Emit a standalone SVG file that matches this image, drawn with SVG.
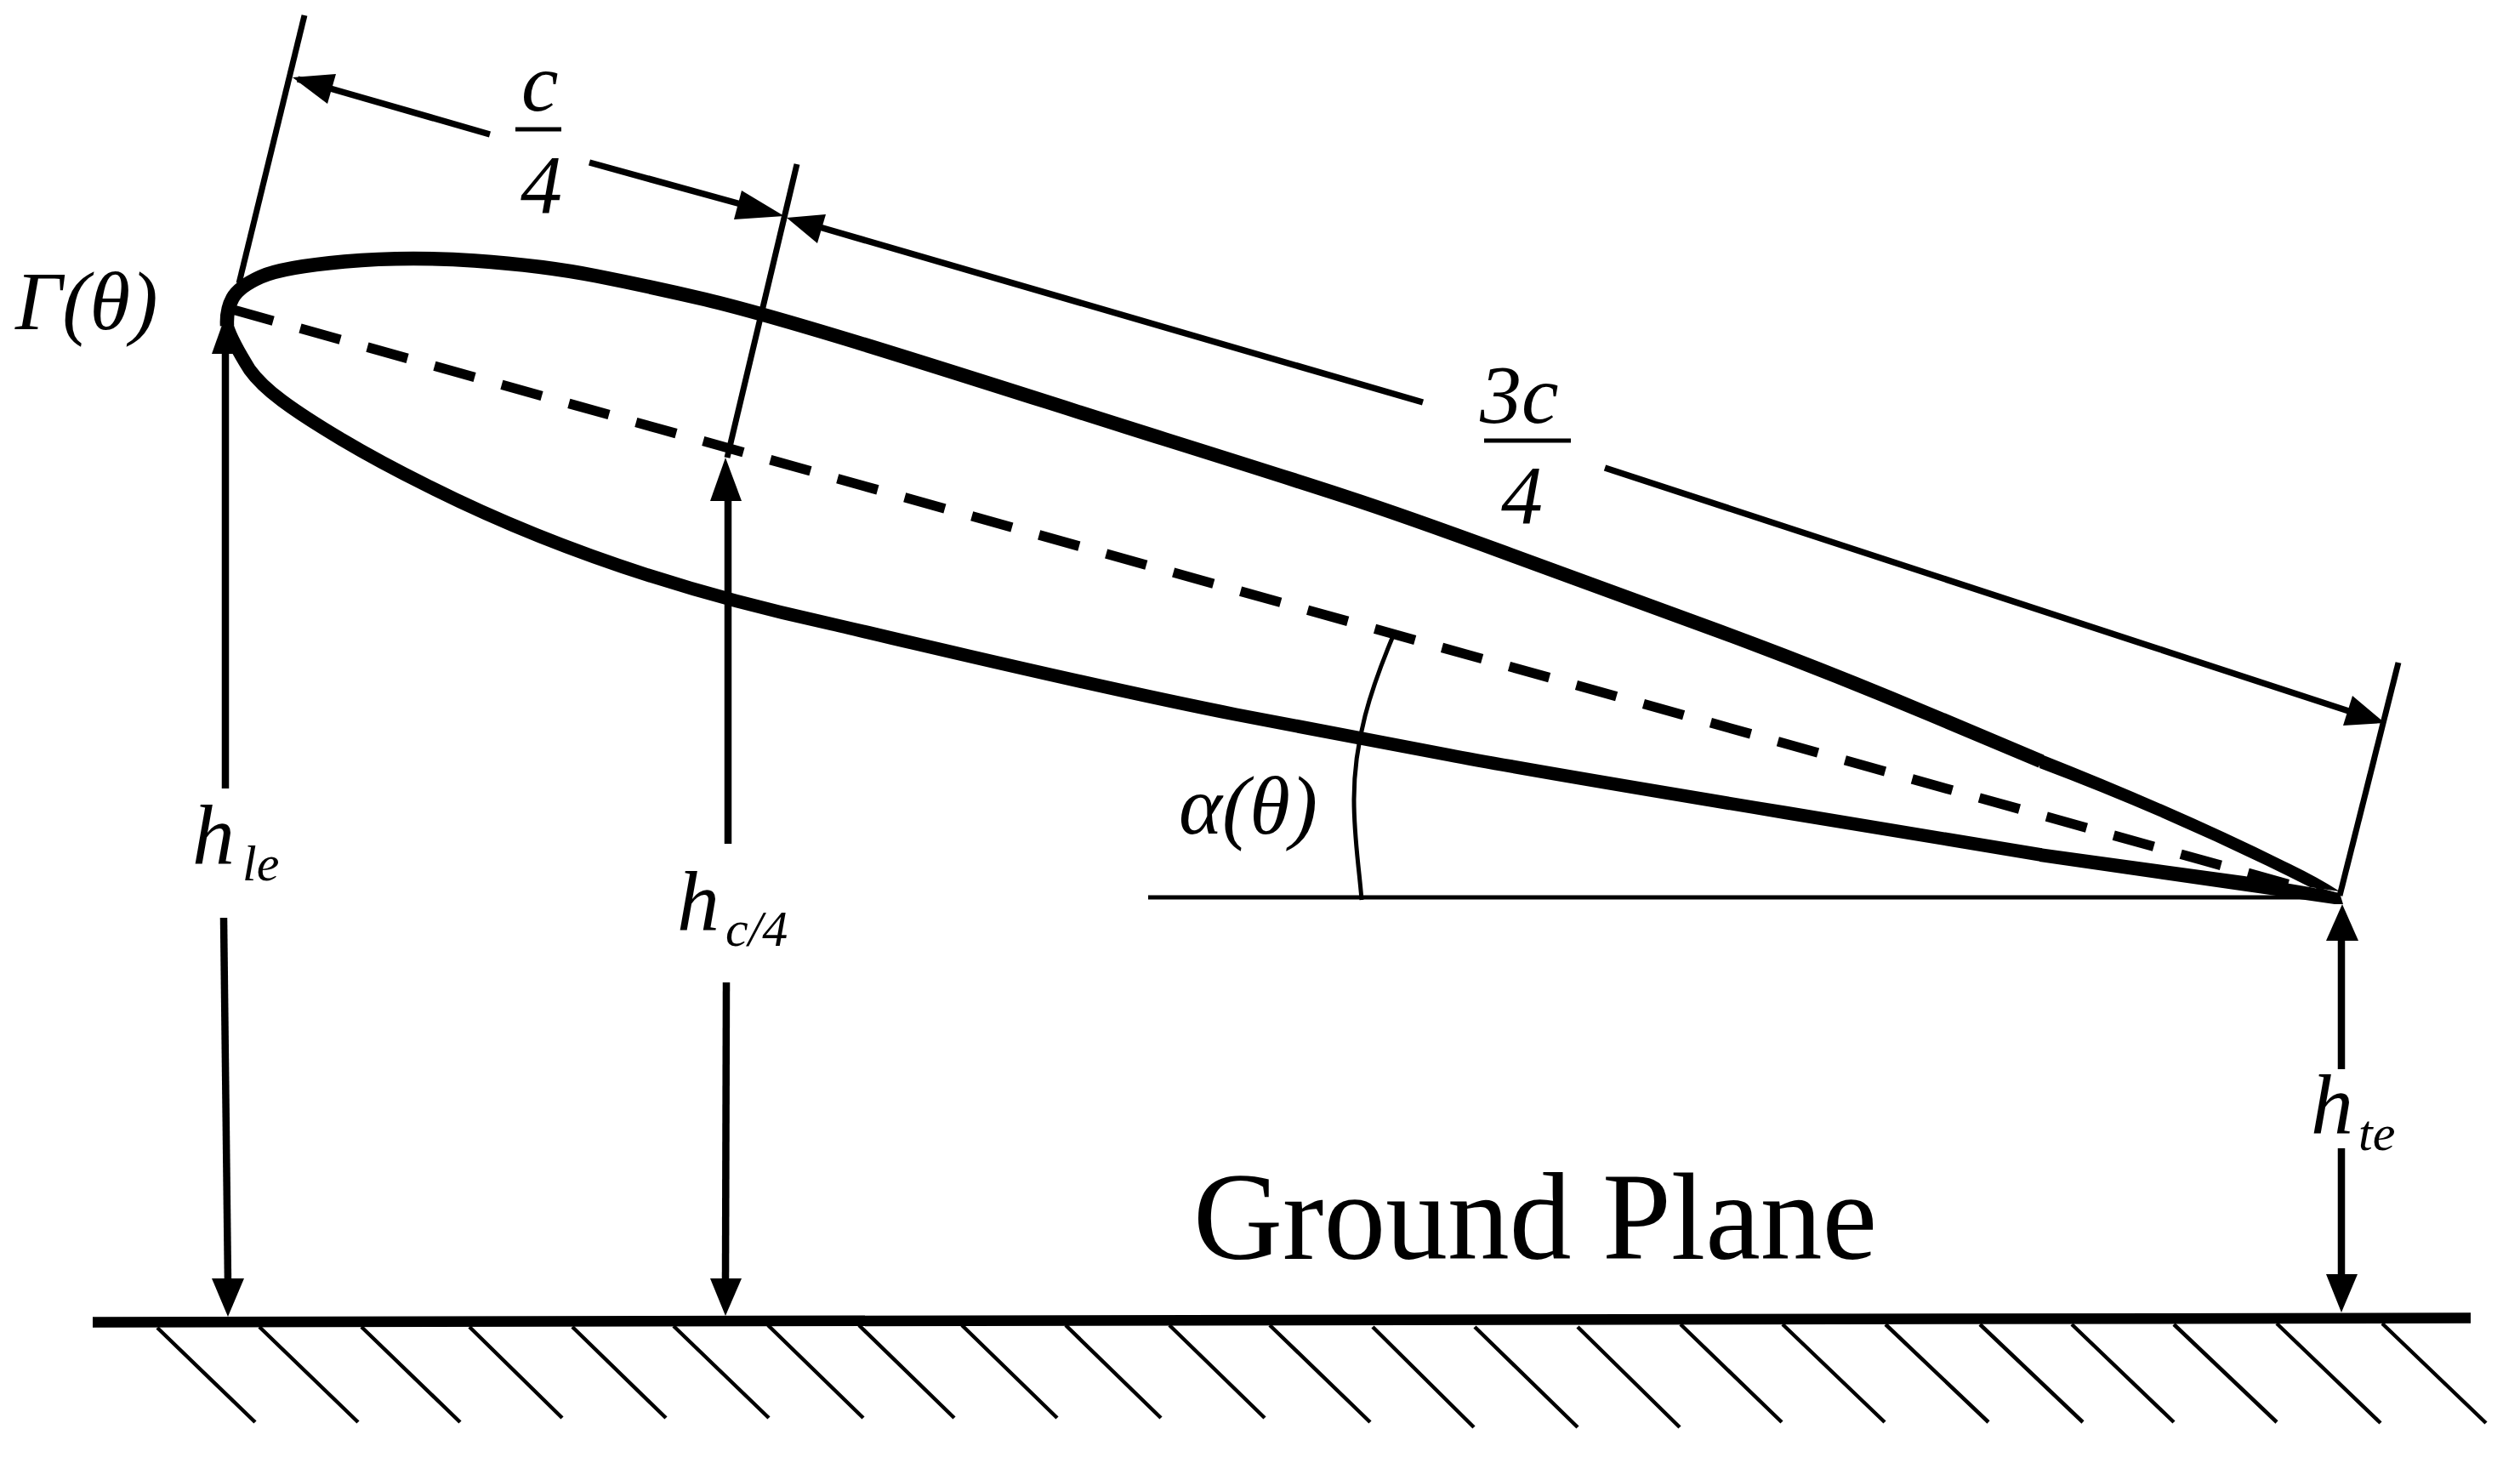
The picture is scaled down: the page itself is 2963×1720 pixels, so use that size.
<svg xmlns="http://www.w3.org/2000/svg" width="2963" height="1720" viewBox="0 0 2963 1720">
<style>
text{font-family:"Liberation Serif","Times New Roman",serif;fill:#000}
.i{font-style:italic}
.m{font-size:98px}
.h{font-size:100px}
.s{font-size:60px}
.foil{fill:none;stroke:#000;stroke-width:16.5;stroke-linejoin:round}
.foil2{fill:none;stroke:#000;stroke-width:15.5;stroke-linejoin:round}
.dim{fill:none;stroke:#000;stroke-width:7.5}
.ext{fill:none;stroke:#000;stroke-width:7}
.v{fill:none;stroke:#000;stroke-width:8.5}
.thin{fill:none;stroke:#000;stroke-width:5}
.hatch{fill:none;stroke:#000;stroke-width:4.5}
.head{fill:#000;stroke:none}
</style>
<rect width="2963" height="1720" fill="#fff"/>
<g id="airfoil">
<path class="foil" d="M267,383 Q266,364 273.5,350.5 Q281,337 306.5,325.5 Q332,314 405,307.5 Q478,301 558,306.5 Q638,312 701.5,324.5 Q765,337 829,352 C950,381 1180,457 1370,516.5 Q1512,561 1581,583.5 Q1650,606 1770,650 Q1890,694 2013,739 Q2136,784 2268,839.5 L2400,895"/>
<path class="foil2" d="M267,383 Q272,400 293.5,434.5 Q306,452 331.5,471 Q357,490 401.5,516.5 Q446,543 503.5,571.5 C600,620 750,684 973,732.5 C1100,762 1290,808 1453,840 Q1606,869 1703,887.5 Q1800,906 2100,955.5 L2400,1005"/>
<path class="head" d="M2398,886 Q2560,950 2687,1013 Q2725,1031 2751,1048 L2716,1043 Q2560,964 2398,903 Z"/>
<path class="head" d="M2398,997 L2639,1030 L2716,1043 L2751,1050 L2755,1063 L2745,1063 L2676,1053 L2398,1013 Z"/>
</g>
<g id="chord">
<path fill="none" stroke="#000" stroke-width="11.5" stroke-dasharray="49 33" d="M274,364 L2746,1055"/>
</g>
<g id="ground">
<path fill="none" stroke="#000" stroke-width="12.5" d="M109,1554.5 L2905,1549.5"/>
<path class="hatch" d="M185,1561L300,1672M305,1560L421,1672M425,1560L541,1672M552,1560L661,1667M673,1560L783,1667M792,1559L904,1667M903,1558L1015,1667M1010,1558L1122,1667M1131,1558L1243,1667M1253,1558L1365,1667M1375,1558L1487,1667M1493,1558L1611,1672M1614,1560L1733,1678M1734,1560L1855,1678M1855,1560L1975,1678M1976,1557L2095,1672M2096,1557L2216,1672M2217,1557L2338,1672M2328,1557L2449,1672M2436,1557L2556,1672M2556,1557L2677,1672M2677,1556L2799,1673M2801,1556L2923,1673"/>
</g>
<g id="connectors">
<path class="ext" d="M358,18 L281,333"/>
<path class="ext" d="M937,193 L855,538"/>
<path class="ext" d="M2820,779 L2751,1053"/>
<path class="dim" d="M350,93 L576,158"/>
<polygon class="head" points="344,91 395,87 385,122"/>
<path class="dim" d="M693,191 L900,248"/>
<polygon class="head" points="922,254 872,224 863,258"/>
<path class="dim" d="M950,263 L1673,473"/>
<polygon class="head" points="925,256 971,252 961,286"/>
<path class="dim" d="M1887,550 L2780,842"/>
<polygon class="head" points="2804,850 2766,818 2755,853"/>
<path class="v" d="M265,410 L265,927"/>
<polygon class="head" points="265,371 249,416 284,416"/>
<path class="v" d="M263,1079 L268,1510"/>
<polygon class="head" points="268,1548 249,1503 287,1503"/>
<path class="v" d="M856,580 L856,992"/>
<polygon class="head" points="853,538 835,589 872,589"/>
<path class="v" d="M854,1155 L853,1510"/>
<polygon class="head" points="853,1547 835,1503 872,1503"/>
<path class="v" d="M2753,1100 L2753,1257"/>
<polygon class="head" points="2754,1063 2735,1106 2773,1106"/>
<path class="v" d="M2753,1350 L2753,1505"/>
<polygon class="head" points="2753,1543 2735,1498 2772,1498"/>
<path class="thin" d="M1350,1055 L2750,1055"/>
<path class="thin" d="M1637,750 C1612,810 1592,870 1592,940 C1592,985 1598,1020 1601,1058"/>
<path class="thin" d="M606,152 L660,152"/>
<path class="thin" d="M1745,518 L1847,518"/>
</g>
<g id="labels">
<text class="i" x="18" y="387" font-size="97">Γ(θ)</text>
<text class="i m" x="613" y="130">c</text>
<text class="i m" x="612" y="250">4</text>
<text class="i m" x="1740" y="497">3c</text>
<text class="i m" x="1765" y="615">4</text>
<text class="i" x="1386" y="980" font-size="97">α(θ)</text>
<text class="i h" x="226" y="1015">h</text>
<text class="i s" x="285" y="1035">le</text>
<text class="i h" x="796" y="1093">h</text>
<text class="i s" x="853" y="1112">c/4</text>
<text class="i h" x="2717" y="1332">h</text>
<text class="i s" x="2773" y="1352">te</text>
<text x="1403" y="1480" font-size="145.5">Ground Plane</text>
</g>
</svg>
